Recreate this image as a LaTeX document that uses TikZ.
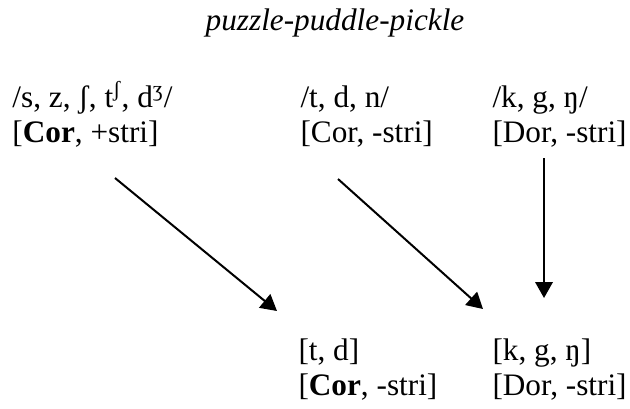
\documentclass[tikz,border=0pt]{standalone}
\usepackage{fontspec}
\setmainfont{Liberation Serif}
\usetikzlibrary{arrows.meta,positioning}

\begin{document}
\begin{tikzpicture}[x=0.4pt, y=-0.4pt,
    seglabel/.style={inner sep=0pt, anchor=base west, font=\fontsize{12.5}{14}\selectfont},
    mapsto/.style={-{Triangle[length=6.4pt, width=7pt]}, line width=0.8pt, black}
  ]
    \useasboundingbox (0,0) rectangle (630,408);
    % title
    \node[seglabel, anchor=base] (title) at (335,30) {\textit{puzzle-puddle-pickle}};
    % input classes
    \node[seglabel] (sib)   at (12,107)  {/s, z, ʃ, t\textsuperscript{ʃ}, d\textsuperscript{ʒ}/};
    \node[seglabel] (sibf)  at (12,142)  {[\textbf{Cor}, +stri]};
    \node[seglabel] (cor)   at (300,107) {/t, d, n/};
    \node[seglabel] (corf)  at (300,142) {[Cor, -stri]};
    \node[seglabel] (dor)   at (492,107) {/k, g, ŋ/};
    \node[seglabel] (dorf)  at (492,142) {[Dor, -stri]};
    % outputs
    \node[seglabel] (outc)  at (298,360) {[t, d]};
    \node[seglabel] (outcf) at (298,395) {[\textbf{Cor}, -stri]};
    \node[seglabel] (outd)  at (492,360) {[k, g, ŋ]};
    \node[seglabel] (outdf) at (492,395) {[Dor, -stri]};
    % arrow ends
    \coordinate (a1) at (115,178);
    \coordinate (b1) at (277,311);
    \coordinate (a2) at (338,179);
    \coordinate (b2) at (483,309);
    \coordinate (a3) at (544,158);
    \coordinate (b3) at (544,298);
    \draw[mapsto] (a1) -- (b1);
    \draw[mapsto] (a2) -- (b2);
    \draw[mapsto] (a3) -- (b3);
\end{tikzpicture}
\end{document}
